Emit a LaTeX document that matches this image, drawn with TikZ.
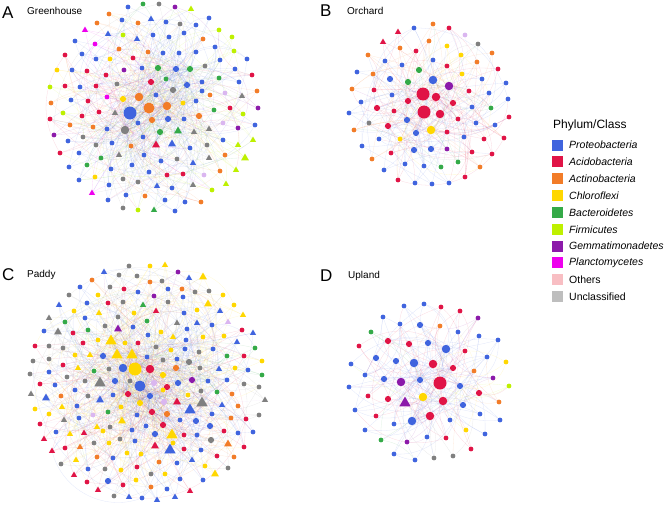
\documentclass[tikz,border=0pt]{standalone}
\usepackage{fontspec}
\setmainfont{Liberation Sans}
\usetikzlibrary{shapes.geometric}
\pgfdeclarelayer{bg}
\pgfsetlayers{bg,main}
\definecolor{cP}{RGB}{64,100,222}
\definecolor{cA}{RGB}{224,20,70}
\definecolor{cC}{RGB}{242,124,40}
\definecolor{cY}{RGB}{255,215,0}
\definecolor{cG}{RGB}{52,170,72}
\definecolor{cF}{RGB}{190,240,0}
\definecolor{cM}{RGB}{140,26,170}
\definecolor{cL}{RGB}{238,0,238}
\definecolor{cO}{RGB}{218,182,240}
\definecolor{cU}{RGB}{128,128,128}
\definecolor{kO}{RGB}{248,190,195}
\definecolor{kU}{RGB}{190,190,190}
\tikzset{
  nd/.style={circle, inner sep=0pt, draw=none},
  ns/.style={nd, minimum size=4.8pt},
  nm/.style={nd, minimum size=6.2pt},
  nl/.style={nd, minimum size=8.5pt},
  nx/.style={nd, minimum size=11pt},
  ny/.style={nd, minimum size=13pt},
  tr/.style={regular polygon, regular polygon sides=3, inner sep=0pt, draw=none},
  ts/.style={tr, minimum size=7pt},
  tm/.style={tr, minimum size=9pt},
  tl/.style={tr, minimum size=13pt},
  lnk/.style={line width=0.3pt, opacity=0.16},
  sq/.style={rectangle, inner sep=0pt, minimum size=11pt, draw=none},
  lab/.style={anchor=west, inner sep=0pt, font=\fontsize{17}{17}\selectfont},
  ttl/.style={anchor=west, inner sep=0pt, font=\fontsize{10}{10}\selectfont},
  leg/.style={anchor=west, inner sep=0pt, font=\fontsize{10.5}{10.5}\selectfont}
}
\newcommand\drawnet[4]{%
  \foreach \x/\y/\c/\s [count=\i] in {#4} {%
    \edef\tmpnode{\noexpand\node[\s, fill=c\c] (#1\i) at (\x,\y) {};}%
    \tmpnode
    \expandafter\xdef\csname col#1\i\endcsname{c\c}%
    \xdef\netN{\i}%
  }%
  \pgfmathsetseed{#3}%
  \begin{pgfonlayer}{bg}
  \foreach \i in {1,...,\netN} {%
    \foreach \k in {1,2,3} {%
      \ifnum\k<3 \pgfmathrandominteger{\r}{1}{#2}\else\pgfmathrandominteger{\r}{1}{\netN}\fi
      \pgfmathrandominteger{\b}{-50}{50}%
      \edef\ec{\csname col#1\i\endcsname}%
      \ifnum\r=\i\relax\else
        \draw[lnk, draw=\ec] (#1\i) to[bend left=\b] (#1\r);
      \fi
    }%
  }%
  \end{pgfonlayer}
}
\begin{document}
\begin{tikzpicture}[x=1pt,y=-1pt]
\useasboundingbox (0,0) rectangle (668,504);

% Panel A
\drawnet{A}{14}{11}{130/113/P/ny, 149/108/C/nx, 139/97/C/nl, 167/106/C/nl, 125/130/U/nl, 152/120/C/nm, 168/119/P/nm, 151/82/A/nm, 173/90/U/nm, 123/99/Y/nm, 158/68/G/nm, 176/69/P/nm, 190/69/G/nm, 187/85/P/nm,
143/4/G/ns, 159/4/U/ns, 175/7/M/ns, 191/9/F/ts, 128/7/P/ns, 109/14/C/ns, 151/19/P/ts, 122/20/P/ns, 138/23/C/ns, 166/22/P/ns, 180/24/U/ns, 196/25/P/ns, 209/18/P/ns, 97/23/C/ns, 85/30/L/ts, 108/34/P/ts, 123/35/F/ns, 137/39/P/ts, 153/35/P/ns, 169/37/P/ns, 184/33/P/ns, 203/39/C/ns, 219/30/F/ns, 75/41/P/ns, 95/44/L/ns, 119/49/C/ns, 148/52/C/ns, 163/53/P/ns, 179/53/P/ns, 196/52/P/ns, 215/47/P/ns, 232/37/F/ns, 234/51/F/ns, 220/60/P/ns, 247/59/P/ns, 65/55/A/ns, 82/54/P/ns, 96/59/P/ns, 110/59/Y/ns, 133/58/A/ns, 205/66/U/ns, 235/69/P/ns, 57/70/Y/ns, 72/70/P/ns, 87/71/A/ns, 106/75/A/ns, 124/70/M/ns, 142/68/P/ns, 166/79/G/ns, 202/82/P/ns, 219/78/G/ns, 252/75/A/ns, 239/82/P/ns, 50/87/F/ns, 65/86/A/ns, 80/87/P/ns, 96/86/A/ns, 117/84/U/ns, 202/91/P/ns, 225/93/O/ns, 257/91/C/ns, 242/96/U/ts, 51/103/C/ns, 71/100/P/ns, 88/101/A/ns, 107/97/L/ns, 156/95/P/ns, 183/103/Y/ns, 196/101/P/ns, 210/95/C/ns, 230/108/A/ns, 258/108/M/ns, 243/114/F/ns, 63/113/F/ns, 82/116/A/ns, 99/112/A/ns, 115/113/U/ts, 184/119/P/ns, 199/116/C/nm, 214/110/G/ns, 50/119/A/ns, 70/125/C/ns, 93/127/C/ns, 107/129/P/ns, 138/123/P/ns, 160/132/G/nm, 178/131/G/tm, 194/132/U/ts, 209/129/U/ts, 223/123/O/ns, 238/128/M/ns, 255/125/P/ns, 54/135/M/ns, 83/137/U/ns, 68/141/P/ns, 96/145/U/ns, 112/143/P/ns, 143/137/P/ns, 156/145/A/tm, 172/144/P/tm, 190/148/P/ns, 207/145/U/ns, 223/140/P/ns, 238/145/F/ts, 253/140/F/ts, 60/153/A/ns, 79/153/P/ns, 101/158/G/ns, 119/155/U/ts, 131/146/C/ns, 144/155/P/ns, 161/161/P/ns, 177/159/U/ns, 193/163/P/ts, 209/158/U/ts, 225/155/C/ns, 245/158/F/tm, 69/167/P/ns, 87/165/G/ns, 111/169/P/ns, 132/165/P/ns, 149/172/P/ns, 167/175/A/ns, 183/174/A/ns, 204/175/O/ns, 220/171/C/ns, 236/170/F/ts, 79/180/P/ns, 95/177/Y/ns, 123/179/U/ns, 138/182/U/ns, 157/186/P/ts, 172/188/P/ns, 193/185/U/ts, 212/190/F/ns, 226/184/F/ts, 109/185/P/ns, 92/193/L/ts, 126/195/P/ns, 145/196/C/ns, 165/200/P/ns, 185/202/P/ns, 201/202/C/ns, 108/200/P/ns, 123/208/U/ns, 138/210/F/ns, 154/210/G/ts, 175/211/P/ns}

% Panel B
\drawnet{B}{13}{23}{424/112/A/ny, 423/94/A/ny, 436/97/A/nl, 440/114/A/nl, 433/80/P/nl, 449/86/M/nl, 408/101/A/nm, 453/103/A/nm, 407/120/P/nm, 431/130/Y/nl, 416/133/P/nm, 377/108/A/nm, 388/126/A/nm,
433/24/C/ns, 414/28/P/ns, 449/28/A/ns, 398/32/A/ts, 465/35/O/ns, 383/42/A/ts, 429/41/C/ns, 478/44/U/ns, 400/48/C/ns, 416/51/A/ns, 447/46/Y/ns, 368/55/C/ns, 461/55/Y/ns, 492/53/C/ns, 385/61/P/ns, 402/65/P/ns, 433/60/P/ns, 477/62/C/ns, 357/72/P/ns, 373/74/C/ns, 419/70/G/nm, 447/66/A/ns, 462/74/Y/ns, 498/69/A/ns, 390/79/P/nm, 408/82/G/nm, 482/79/P/ns, 506/83/P/ns, 352/89/C/ns, 374/90/A/ns, 392/95/P/ns, 469/91/A/ns, 489/93/P/ns, 508/99/P/ns, 361/102/P/ns, 472/107/P/ns, 491/108/G/ns, 349/113/P/ns, 394/111/A/ns, 509/117/A/ns, 369/123/U/ns, 458/119/A/ns, 476/123/P/ns, 495/125/P/ns, 354/130/C/ns, 447/132/A/ns, 379/139/P/ns, 400/139/Y/ns, 464/137/P/ns, 484/139/A/ns, 504/138/A/ns, 362/146/P/ns, 391/153/A/ns, 414/150/P/nm, 431/149/P/nm, 447/149/M/ns, 472/152/A/ns, 492/154/A/ns, 372/159/C/ns, 405/164/P/ns, 424/166/P/ns, 441/167/G/ns, 458/162/G/ns, 480/167/C/ns, 384/170/P/ns, 398/180/A/ns, 415/183/P/ns, 432/184/P/ns, 449/183/P/ns, 465/177/A/ns}

% Panel C
\drawnet{C}{14}{37}{135/369/Y/ny, 140/386/P/nx, 123/368/P/nl, 150/369/A/nl, 167/387/A/nm, 128/394/A/nm, 150/396/P/nm, 152/412/A/nm, 163/425/A/nm, 140/403/Y/nm, 117/355/Y/tl, 132/355/Y/tl, 111/341/Y/tl, 202/403/U/tl,
129/266/U/ns, 150/266/Y/ns, 165/265/Y/ts, 104/272/P/ts, 119/275/U/ns, 137/276/U/ns, 178/272/M/ns, 189/278/P/ts, 203/277/Y/tm, 92/280/C/ns, 150/282/C/ns, 162/281/U/ns, 80/287/P/ns, 110/287/U/ns, 124/289/A/ns, 138/292/P/ns, 168/289/P/ns, 182/289/C/ns, 195/292/U/ns, 209/291/U/ns, 69/295/U/ns, 98/295/Y/ns, 154/296/M/ns, 183/297/P/ns, 223/295/Y/ns, 87/303/P/ns, 108/303/A/ns, 123/302/U/ns, 143/305/G/ts, 168/302/U/ns, 208/304/Y/tm, 234/305/Y/ns, 59/305/P/ts, 74/311/Y/ns, 99/313/Y/ts, 134/313/Y/ns, 156/311/A/ts, 184/313/P/ns, 197/310/Y/ns, 220/311/P/ts, 243/315/Y/ts, 49/318/U/ts, 85/318/P/ns, 118/317/U/ns, 65/322/G/ns, 105/326/U/ns, 118/329/M/tm, 147/321/G/ns, 177/323/U/ts, 197/323/P/ts, 212/325/P/ns, 228/322/O/ts, 133/327/P/ns, 161/332/Y/ns, 187/329/P/ns, 44/331/P/ns, 58/332/U/tm, 88/330/G/ns, 73/333/A/ns, 242/330/A/ns, 253/333/P/ts, 98/340/Y/ns, 125/343/Y/ns, 138/343/A/ns, 148/335/P/ns, 173/337/Y/ts, 186/340/P/ns, 203/337/Y/ns, 224/336/Y/ns, 35/346/A/ns, 49/346/U/ns, 63/348/U/ns, 83/343/A/ns, 156/347/U/ns, 171/350/Y/ns, 185/349/P/ns, 199/352/U/ns, 213/349/P/ns, 237/342/P/ts, 255/348/G/ns, 33/361/U/ns, 49/359/U/ns, 63/365/A/ns, 75/355/Y/ns, 90/355/Y/ts, 103/356/P/nm, 147/357/P/ns, 163/360/U/ns, 177/359/P/ns, 189/362/U/nm, 227/356/G/ns, 244/356/A/ns, 262/361/Y/ns, 30/374/U/ns, 49/372/P/ns, 78/368/Y/ts, 94/371/G/ns, 109/369/U/ns, 163/375/Y/nm, 176/368/C/nm, 200/368/U/ns, 219/369/P/ts, 235/368/Y/ns, 248/370/P/ns, 262/375/G/ns, 40/384/A/ns, 55/385/P/ns, 67/377/U/ns, 85/381/U/ns, 100/383/U/tl, 115/381/P/nm, 130/381/U/ns, 154/383/O/nm, 178/383/P/nm, 192/380/M/nm, 208/381/P/ns, 227/380/P/ns, 244/384/U/ns, 259/387/U/ns, 31/394/U/ts, 46/398/P/tm, 61/396/C/ns, 75/390/P/ns, 88/396/U/ns, 100/400/P/tm, 113/395/P/ns, 163/390/Y/ns, 188/395/Y/ns, 201/391/U/ns, 217/392/G/ns, 232/394/C/ns, 265/400/U/ts, 35/409/Y/ns, 49/414/Y/ns, 62/407/Y/ts, 77/406/P/ns, 93/415/O/ns, 108/412/G/ns, 121/407/Y/ns, 164/402/O/nm, 167/414/C/nm, 177/402/A/tm, 190/410/P/tl, 212/414/P/ns, 222/405/P/ts, 238/406/C/ns, 259/415/U/ns, 40/424/A/ns, 64/420/U/ts, 79/418/P/ns, 97/427/Y/ts, 110/427/U/ns, 122/421/Y/tm, 137/415/P/ns, 180/420/P/ns, 196/421/P/nm, 210/426/P/nm, 231/418/C/ns, 246/419/A/ns, 56/432/P/ns, 70/434/Y/ts, 84/433/A/ts, 103/431/Y/ns, 132/430/P/ns, 146/426/P/ns, 155/434/P/nm, 172/435/Y/tl, 184/435/A/ns, 197/435/P/ns, 224/431/A/ns, 238/433/P/ns, 253/432/P/ns, 44/439/A/ts, 94/443/U/ns, 109/443/Y/ns, 120/439/U/ns, 135/441/P/ns, 173/443/Y/ns, 211/440/U/nm, 52/451/A/ts, 65/448/A/ns, 80/447/C/ts, 97/457/C/ns, 113/458/P/ns, 127/453/Y/ns, 141/454/Y/ns, 155/446/A/tm, 170/450/P/tl, 184/449/A/ns, 201/450/P/ns, 228/444/C/tm, 244/447/A/ns, 76/460/Y/ts, 61/464/U/ns, 88/469/P/ns, 105/469/U/ns, 121/470/Y/ns, 137/467/A/ns, 159/462/C/ns, 177/463/P/ns, 192/460/P/ts, 205/466/Y/ns, 217/456/A/ns, 234/457/C/ns, 74/475/A/ts, 87/482/A/ns, 108/481/P/nm, 123/485/A/ns, 136/480/Y/ns, 151/474/U/ns, 165/474/Y/ns, 180/479/P/ns, 203/480/P/ns, 215/474/Y/tm, 228/468/U/ns, 98/490/A/ts, 114/496/U/ns, 129/497/P/ts, 142/498/P/ns, 157/500/P/ts, 151/487/C/ns, 167/489/P/ns, 175/497/P/ts, 190/491/A/ts}

% Panel D
\drawnet{D}{13}{53}{440/383/A/ny, 433/364/A/nl, 443/401/A/nl, 430/416/A/nl, 414/363/P/nl, 446/349/P/nl, 412/421/P/nl, 401/382/M/nl, 405/403/M/tl, 423/397/Y/nl, 420/380/P/nm, 453/368/A/nm, 460/386/P/nm,
404/306/P/ns, 424/304/P/ns, 441/307/A/ns, 460/311/A/ns, 478/318/M/ns, 383/317/P/ns, 400/324/P/ns, 420/325/P/nm, 440/326/C/ns, 458/332/P/ns, 479/336/P/ns, 371/332/G/ns, 388/341/A/nm, 409/344/A/nm, 428/343/P/nm, 465/351/A/ns, 498/340/P/ns, 359/346/A/ns, 376/358/P/nm, 396/361/P/nm, 487/357/P/ns, 506/362/Y/ns, 351/364/P/ns, 365/375/P/ns, 384/379/P/nm, 474/371/C/ns, 493/378/M/ns, 509/386/F/ns, 349/387/P/ns, 368/396/A/ns, 388/399/A/nm, 463/405/P/nm, 479/393/A/nm, 499/402/C/ns, 355/410/P/ns, 376/416/A/ns, 394/424/P/ns, 450/420/P/ns, 480/414/P/ns, 500/420/P/ns, 365/430/P/ns, 466/430/Y/ns, 485/434/P/ns, 381/440/G/ns, 407/442/M/ns, 427/437/P/ns, 446/438/A/ns, 471/449/A/ns, 394/454/P/ns, 415/460/P/ns, 434/458/U/ns, 453/456/U/ns}

% Panel labels
\node[lab] (lA) at (2,13) {A};
\node[ttl] (tA) at (27,10.5) {Greenhouse};
\node[lab] (lB) at (320,11) {B};
\node[ttl] (tB) at (347,10.5) {Orchard};
\node[lab] (lC) at (2,275) {C};
\node[ttl] (tC) at (27,274.5) {Paddy};
\node[lab] (lD) at (320,276) {D};
\node[ttl] (tD) at (348,276) {Upland};

% Legend
\node[anchor=west, inner sep=0pt, font=\fontsize{12}{12}\selectfont] (lgT) at (553,125) {Phylum/Class};
\foreach \col/\txt [count=\j] in {cP/\textit{Proteobacteria}, cA/\textit{Acidobacteria}, cC/\textit{Actinobacteria}, cY/\textit{Chloroflexi}, cG/\textit{Bacteroidetes}, cF/\textit{Firmicutes}, cM/\textit{Gemmatimonadetes}, cL/\textit{Planctomycetes}, kO/Others, kU/Unclassified} {
  \node[sq, fill=\col] (k\j) at (557.5, {145+16.85*(\j-1)}) {};
  \node[leg] (kt\j) at (569, {145+16.85*(\j-1)}) {\txt};
}
\end{tikzpicture}
\end{document}
